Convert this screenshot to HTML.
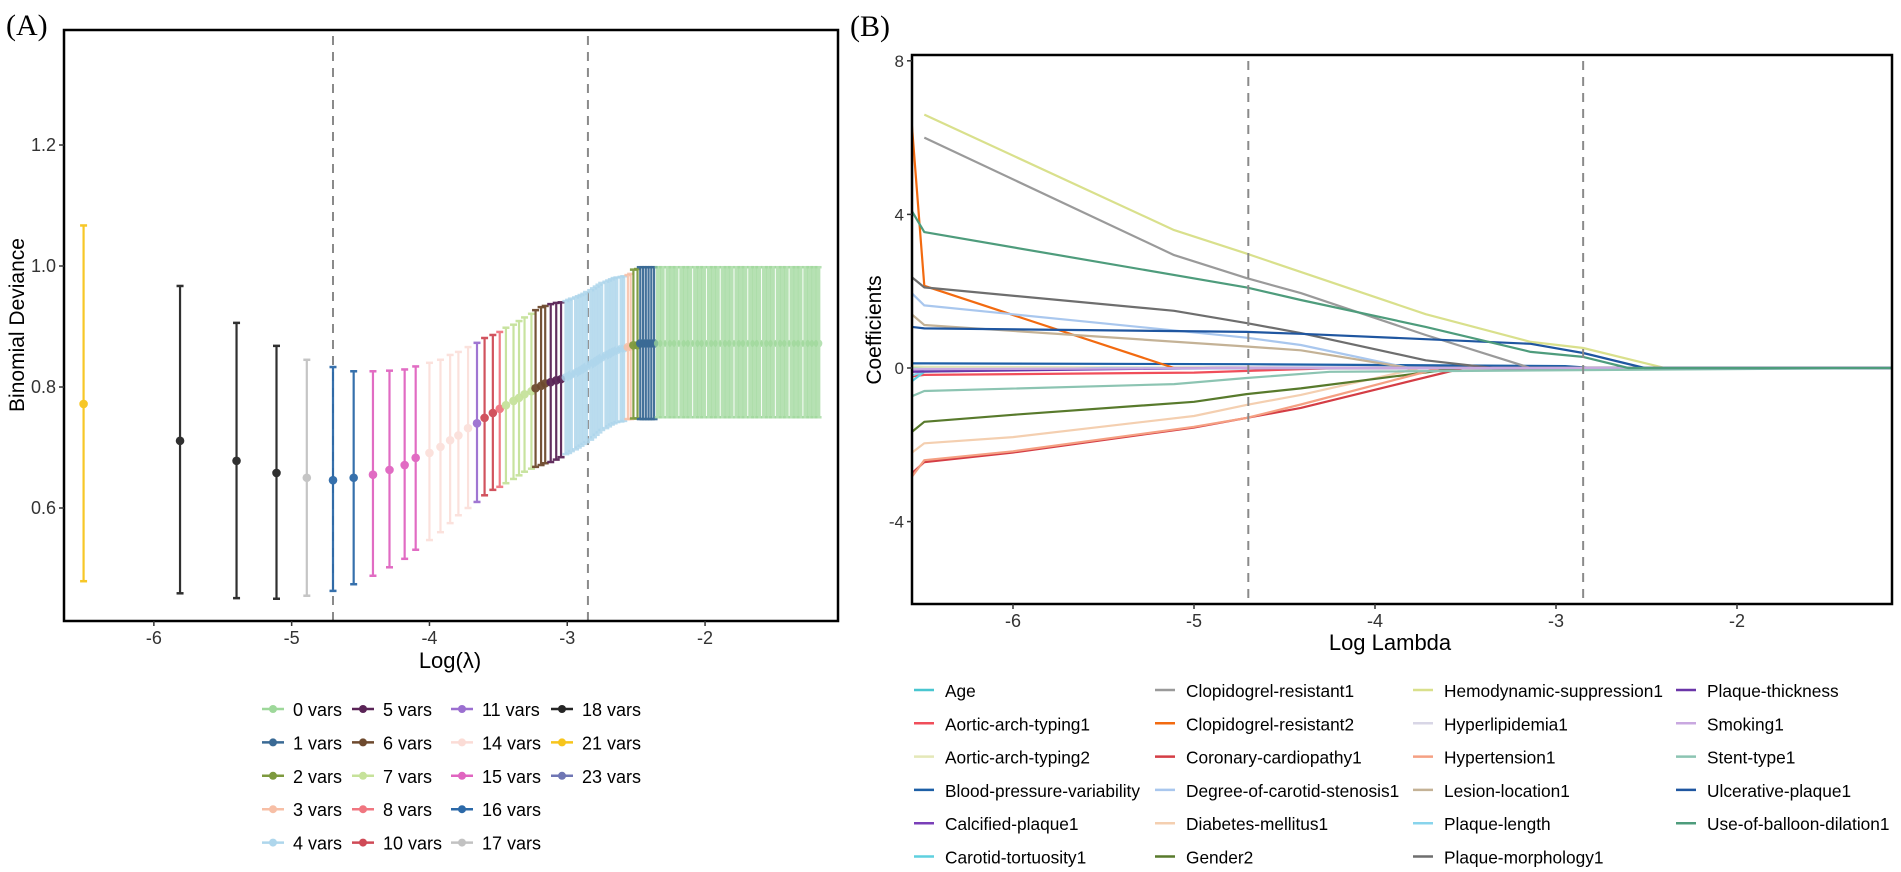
<!DOCTYPE html>
<html><head><meta charset="utf-8"><style>
html,body{margin:0;padding:0;background:#fff;}
svg{display:block;font-family:"Liberation Sans",sans-serif;}
.ser{font-family:"Liberation Serif",serif;}
</style></head><body>
<svg id="fig" width="1901" height="872" viewBox="0 0 1901 872" xmlns="http://www.w3.org/2000/svg">
<text class="ser" x="6" y="35" font-size="30">(A)</text>
<text class="ser" x="850" y="36" font-size="30">(B)</text>
<g id="pa"></g>
<g id="pb"></g>
</svg>
<script>
// ---------- Panel A data ----------
const lamA = [-6.51,-5.81,-5.40,-5.11,-4.89,-4.70,-4.55,-4.41,-4.29,-4.18,-4.10,
 -4.00,-3.92,-3.85,-3.79,-3.72,-3.655,-3.60,-3.54,-3.49,
 -3.445,-3.39,-3.35,-3.31,-3.26,-3.23,-3.19,-3.16,-3.12,-3.08,-3.045,
 -3.01,-2.99,-2.97,-2.94,-2.92,-2.90,-2.88,-2.86,-2.83,-2.81,-2.79,-2.77,-2.75,-2.72,-2.70,-2.68,-2.66,-2.64,-2.61,-2.59,
 -2.56,-2.54,-2.52,-2.49,
 -2.47,-2.45,-2.43,-2.41,-2.39,-2.37,
 -2.34,-2.31,-2.27,-2.24,-2.21,-2.17,-2.14,-2.11,-2.07,-2.04,-2.01,-1.97,-1.94,-1.91,-1.87,-1.84,-1.81,-1.77,-1.74,-1.71,-1.67,-1.64,-1.61,-1.57,-1.54,-1.51,-1.47,-1.44,-1.41,-1.37,-1.34,-1.31,-1.27,-1.24,-1.21,-1.18];
const nVars = [21,18,18,18,17,16,16,15,15,15,15,
 14,14,14,14,14,11,10,10,8,
 7,7,7,7,7,6,6,6,5,5,5,
 4,4,4,4,4,4,4,4,4,4,4,4,4,4,4,4,4,4,4,4,
 3,3,2,2,
 1,1,1,1,1,1,
 0,0,0,0,0,0,0,0,0,0,0,0,0,0,0,0,0,0,0,0,0,0,0,0,0,0,0,0,0,0,0,0,0,0,0,0];
const devMean = [0.772,0.711,0.678,0.658,0.650,0.646,0.650,0.655,0.663,0.671,0.683,
 0.691,0.701,0.712,0.720,0.732,0.740,0.749,0.757,0.764,
 0.770,0.777,0.782,0.788,0.793,0.798,0.802,0.806,0.808,0.811,0.813,
 0.816,0.818,0.821,0.823,0.826,0.828,0.831,0.834,0.837,0.840,0.843,0.846,0.849,0.852,0.854,0.857,0.859,0.861,0.863,0.864,
 0.866,0.867,0.869,0.869,
 0.872,0.872,0.872,0.872,0.872,0.872,
 0.872,0.872,0.872,0.872,0.872,0.872,0.872,0.872,0.872,0.872,0.872,0.872,0.872,0.872,0.872,0.872,0.872,0.872,0.872,0.872,0.872,0.872,0.872,0.872,0.872,0.872,0.872,0.872,0.872,0.872,0.872,0.872,0.872,0.872,0.872,0.872];
const devLo = [0.479,0.459,0.451,0.450,0.455,0.463,0.474,0.488,0.502,0.516,0.531,
 0.547,0.560,0.575,0.588,0.600,0.610,0.621,0.630,0.635,
 0.641,0.648,0.654,0.660,0.665,0.668,0.671,0.674,0.676,0.680,0.684,
 0.689,0.691,0.694,0.697,0.700,0.703,0.706,0.709,0.713,0.717,0.721,0.725,0.729,0.732,0.735,0.738,0.740,0.742,0.743,0.744,
 0.747,0.747,0.748,0.748,
 0.747,0.747,0.747,0.747,0.747,0.747,
 0.750,0.750,0.750,0.750,0.750,0.750,0.750,0.750,0.750,0.750,0.750,0.750,0.750,0.750,0.750,0.750,0.750,0.750,0.750,0.750,0.750,0.750,0.750,0.750,0.750,0.750,0.750,0.750,0.750,0.750,0.750,0.750,0.750,0.750,0.750,0.750];
const devHi = [1.067,0.967,0.906,0.868,0.845,0.833,0.826,0.826,0.827,0.829,0.834,
 0.840,0.845,0.853,0.858,0.866,0.873,0.881,0.886,0.891,
 0.898,0.903,0.909,0.915,0.921,0.927,0.932,0.934,0.937,0.939,0.940,
 0.942,0.944,0.946,0.948,0.950,0.952,0.954,0.957,0.960,0.963,0.966,0.969,0.972,0.974,0.976,0.978,0.980,0.981,0.982,0.983,
 0.985,0.987,0.994,0.995,
 0.998,0.998,0.998,0.998,0.998,0.998,
 0.998,0.998,0.998,0.998,0.998,0.998,0.998,0.998,0.998,0.998,0.998,0.998,0.998,0.998,0.998,0.998,0.998,0.998,0.998,0.998,0.998,0.998,0.998,0.998,0.998,0.998,0.998,0.998,0.998,0.998,0.998,0.998,0.998,0.998,0.998,0.998];
const yTicksA = [0.6,0.8,1.0,1.2];
const yTickLabelsA = ["0.6","0.8","1.0","1.2"];
const xTicksA = [-6,-5,-4,-3,-2];
const cutsA = [-4.70,-2.85];
const legendVars = [0,1,2,3,4,5,6,7,8,10,11,14,15,16,17,18,21,23];
const varColors = {0:"#9ed89a",1:"#3a6a95",2:"#7d9a3e",3:"#f7bfa6",4:"#aed6ec",5:"#5a2457",6:"#6e4a2e",7:"#c6e29a",8:"#f07680",10:"#cf4a56",11:"#9b6fd0",14:"#fbdcd6",15:"#e065c0",16:"#2c69a8",17:"#c2c2c2",18:"#252525",21:"#f7c51c",23:"#6f76b4"};

// ---------- Panel B data ----------
const coefNames = ["Age","Aortic-arch-typing1","Aortic-arch-typing2","Blood-pressure-variability","Calcified-plaque1","Carotid-tortuosity1",
 "Clopidogrel-resistant1","Clopidogrel-resistant2","Coronary-cardiopathy1","Degree-of-carotid-stenosis1","Diabetes-mellitus1","Gender2",
 "Hemodynamic-suppression1","Hyperlipidemia1","Hypertension1","Lesion-location1","Plaque-length","Plaque-morphology1",
 "Plaque-thickness","Smoking1","Stent-type1","Ulcerative-plaque1","Use-of-balloon-dilation1"];
const coefColors = ["#49c6d0","#f04e5a","#e4e8b8","#1d5fa6","#7a3fb8","#5fd0df",
 "#9a9a9a","#f26a10","#d43d45","#a9c7ee","#f4cfb0","#587a2c",
 "#d9e08c","#d8d6e6","#f5a083","#c4b296","#88d4ec","#6e6e6e",
 "#6a35a8","#c9a8e0","#8cc4b2","#1f56a0","#4e9c7c"];
const coefL = [
 [-6.56,-6.49,-4.6,-1.15],
 [-6.56,-6.49,-5.0,-4.2,-1.15],
 [-6.56,-6.49,-4.5,-1.15],
 [-6.56,-6.49,-4.71,-2.95,-2.8,-1.15],
 [-6.56,-6.49,-4.8,-1.15],
 [-6.56,-6.49,-5.5,-1.15],
 [-6.49,-5.11,-4.71,-4.41,-3.72,-3.14,-1.15],
 [-6.56,-6.49,-5.11,-1.15],
 [-6.56,-6.49,-6.0,-5.0,-4.71,-4.41,-3.51,-1.15],
 [-6.56,-6.49,-4.71,-4.41,-3.81,-1.15],
 [-6.56,-6.49,-6.0,-5.0,-4.71,-4.41,-3.75,-1.15],
 [-6.56,-6.49,-6.0,-5.0,-4.71,-4.41,-3.53,-1.15],
 [-6.49,-5.11,-4.71,-3.72,-3.14,-2.85,-2.40,-1.15],
 [-6.56,-6.49,-4.6,-1.15],
 [-6.56,-6.49,-6.0,-5.0,-4.71,-4.41,-3.64,-1.15],
 [-6.56,-6.49,-4.71,-4.41,-3.81,-1.15],
 [-6.56,-6.49,-5.8,-4.5,-1.15],
 [-6.56,-6.49,-5.11,-4.71,-4.41,-3.72,-3.35,-1.15],
 [-6.56,-6.49,-4.9,-1.15],
 [-6.56,-6.49,-4.7,-1.15],
 [-6.56,-6.49,-5.11,-4.71,-4.25,-1.15],
 [-6.56,-6.49,-4.71,-4.41,-3.72,-3.14,-2.85,-2.51,-1.15],
 [-6.56,-6.49,-4.71,-4.41,-3.72,-3.14,-2.85,-2.60,-1.15]];
const coefV = [
 [0.02,0.02,0,0],
 [-0.22,-0.18,-0.12,0,0],
 [0.04,0.03,0,0],
 [0.12,0.12,0.1,0.05,0,0],
 [-0.06,-0.05,0,0],
 [-0.35,-0.1,0,0],
 [6.0,2.94,2.34,1.95,0.86,0,0],
 [6.42,2.14,0,0],
 [-2.75,-2.45,-2.2,-1.55,-1.3,-1.04,0,0],
 [1.95,1.63,0.79,0.6,0,0],
 [-2.21,-1.96,-1.8,-1.25,-0.96,-0.7,0,0],
 [-1.67,-1.4,-1.22,-0.88,-0.68,-0.53,0,0],
 [6.6,3.59,2.98,1.4,0.68,0.52,0,0],
 [-0.03,-0.02,0,0],
 [-2.84,-2.4,-2.17,-1.53,-1.3,-0.95,0,0],
 [1.4,1.12,0.56,0.46,0,0],
 [-0.2,-0.08,-0.03,0,0],
 [2.37,2.1,1.49,1.17,0.91,0.2,0,0],
 [-0.1,-0.09,0,0],
 [-0.04,-0.03,0,0],
 [-0.74,-0.6,-0.42,-0.26,-0.1,0],
 [1.07,1.03,0.94,0.89,0.75,0.63,0.39,0,0],
 [4.1,3.54,2.1,1.77,1.07,0.42,0.29,0,0]];
const yTicksB = [-4,0,4,8];
const xTicksB = [-6,-5,-4,-3,-2];
const cutsB = [-4.70,-2.85];

const NS="http://www.w3.org/2000/svg";
function mk(parent, tag, attrs){const e=document.createElementNS(NS,tag);for(const k in attrs)e.setAttribute(k,attrs[k]);parent.appendChild(e);return e;}

// ---------- Panel A ----------
(function(){
 const g=document.getElementById('pa');
 const L=64,R=838,T=30,B=621;
 const xA=v=>333+(v+4.70)*137.8;
 const yA=v=>508-(v-0.6)*605;
 cutsA.forEach((c,i)=>{const l=mk(g,'line',{x1:xA(c),x2:xA(c),y1:T+6,y2:B,stroke:'#8a8a8a','stroke-width':2,'stroke-dasharray':'9,7'});
  
  });
 lamA.forEach((_,i)=>{
  const nv=nVars[i];
  const col=varColors[nv];const x=xA(lamA[i]);
  const op=(nv===0)?0.75:(nv===14||nv===4||nv===3)?0.85:0.95;
  const sw=(nv===0)?4.6:(nv===4)?3:2.2;
  const eg=mk(g,'g',{opacity:op});
  
  
  mk(eg,'line',{x1:x,x2:x,y1:yA(devLo[i]),y2:yA(devHi[i]),stroke:col,'stroke-width':sw});
  mk(eg,'line',{x1:x-3.5,x2:x+3.5,y1:yA(devLo[i]),y2:yA(devLo[i]),stroke:col,'stroke-width':2.5});
  mk(eg,'line',{x1:x-3.5,x2:x+3.5,y1:yA(devHi[i]),y2:yA(devHi[i]),stroke:col,'stroke-width':2.5});
  mk(eg,'circle',{cx:x,cy:yA(devMean[i]),r:4.3,fill:col});
 });
 const box=mk(g,'rect',{x:L,y:T,width:R-L,height:B-T,fill:'none',stroke:'#000','stroke-width':2.5});
 
 
 yTicksA.forEach((v,i)=>{mk(g,'line',{x1:L-5,x2:L,y1:yA(v),y2:yA(v),stroke:'#333','stroke-width':1.5});
  const t=mk(g,'text',{x:L-8,y:yA(v)+6,'font-size':18,'text-anchor':'end',fill:'#333'});t.textContent=yTickLabelsA[i];
  
  });
 xTicksA.forEach(v=>{mk(g,'line',{x1:xA(v),x2:xA(v),y1:B,y2:B+5,stroke:'#333','stroke-width':1.5});
  const t=mk(g,'text',{x:xA(v),y:B+23,'font-size':18,'text-anchor':'middle',fill:'#333'});t.textContent=String(v);
  
  });
 const xt=mk(g,'text',{x:450,y:668,'font-size':22,'text-anchor':'middle'});xt.textContent='Log(λ)';
 
 
 const yt=mk(g,'text',{x:0,y:0,'font-size':21,'text-anchor':'middle',transform:'translate(24,325) rotate(-90)'});yt.textContent='Binomial Deviance';
 
 
 const colX=[273,363,462,562];
 const cols=[[0,1,2,3,4],[5,6,7,8,10],[11,14,15,16,17],[18,21,23]];
 cols.forEach((c,ci)=>c.forEach((v,ri)=>{
  const y=709+ri*33.4;
  const lg=mk(g,'g',{});
  
  
  const col=varColors[v];
  mk(lg,'line',{x1:colX[ci]-11,x2:colX[ci]+11,y1:y,y2:y,stroke:col,'stroke-width':2.5});
  mk(lg,'circle',{cx:colX[ci],cy:y,r:4,fill:col});
  const t=mk(lg,'text',{x:colX[ci]+20,y:y+7,'font-size':18});t.textContent=v+' vars';
 }));
})();

// ---------- Panel B ----------
(function(){
 const g=document.getElementById('pb');
 const L=912,R=1892,T=55,B=604;
 const xB=v=>1013+(v+6)*181;
 const yB=v=>368-v*38.4;
 const clip=mk(g,'clipPath',{id:'cb'});mk(clip,'rect',{x:L,y:T,width:R-L,height:B-T});
 const lg=mk(g,'g',{'clip-path':'url(#cb)'});
 coefNames.forEach((n,i)=>{
  const pts=coefL[i].map((l,j)=>xB(l).toFixed(1)+','+yB(coefV[i][j]).toFixed(1)).join(' ');
  const p=mk(lg,'polyline',{points:pts,fill:'none',stroke:coefColors[i],'stroke-width':2.2,'stroke-linejoin':'round'});
  
  
 });
 cutsB.forEach((c,i)=>{const l=mk(g,'line',{x1:xB(c),x2:xB(c),y1:T+6,y2:B,stroke:'#8a8a8a','stroke-width':2,'stroke-dasharray':'9,7'});
  
  });
 const box=mk(g,'rect',{x:L,y:T,width:R-L,height:B-T,fill:'none',stroke:'#000','stroke-width':2.5});
 
 
 yTicksB.forEach(v=>{mk(g,'line',{x1:L-5,x2:L,y1:yB(v),y2:yB(v),stroke:'#333','stroke-width':1.5});
  const t=mk(g,'text',{x:L-8,y:yB(v)+6,'font-size':17,'text-anchor':'end',fill:'#333'});t.textContent=String(v);
  
  });
 xTicksB.forEach(v=>{mk(g,'line',{x1:xB(v),x2:xB(v),y1:B,y2:B+5,stroke:'#333','stroke-width':1.5});
  const t=mk(g,'text',{x:xB(v),y:B+23,'font-size':18,'text-anchor':'middle',fill:'#333'});t.textContent=String(v);
  
  });
 const xt=mk(g,'text',{x:1390,y:650,'font-size':22,'text-anchor':'middle'});xt.textContent='Log Lambda';
 
 
 const yt=mk(g,'text',{x:0,y:0,'font-size':21,'text-anchor':'middle',transform:'translate(881,330) rotate(-90)'});yt.textContent='Coefficients';
 
 
 const colX=[914,1155,1413,1676];
 const per=[6,6,6,5];
 let k=0;
 per.forEach((cnt,ci)=>{for(let r=0;r<cnt;r++){
  const i=k++;const y=690+r*33.3;
  const e=mk(g,'g',{});
  
  
  mk(e,'line',{x1:colX[ci],x2:colX[ci]+20,y1:y,y2:y,stroke:coefColors[i],'stroke-width':2.5});
  const t=mk(e,'text',{x:colX[ci]+31,y:y+7,'font-size':17.3});t.textContent=coefNames[i];
 }});
})();
</script>
</body></html>
